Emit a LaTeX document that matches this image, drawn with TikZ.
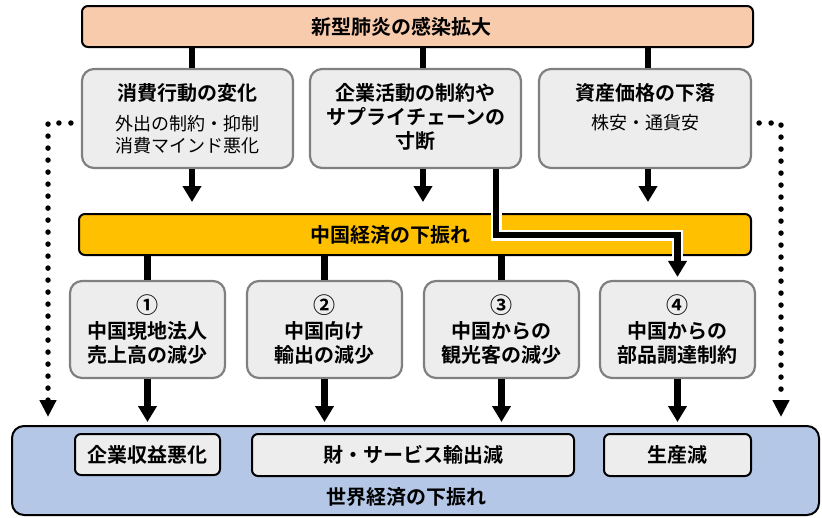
\documentclass[tikz,border=0pt]{standalone}
\usepackage{fontspec}
\setmainfont{Noto Sans CJK JP}[BoldFont={Noto Sans CJK JP Bold}]
\usetikzlibrary{arrows.meta}
\definecolor{peach}{HTML}{F8CBAD}
\definecolor{lgray}{HTML}{EDEDED}
\definecolor{bgray}{HTML}{808080}
\definecolor{ybar}{HTML}{FFC000}
\definecolor{bblue}{HTML}{B4C7E7}
\begin{document}
\begin{tikzpicture}[x=1pt,y=-1pt,
  bar/.style={draw=black,line width=2pt,rounded corners=6pt,inner sep=0pt},
  gbox/.style={draw=bgray,fill=lgray,line width=2.2pt,rounded corners=12pt,inner sep=0pt},
  wbox/.style={draw=black,fill=lgray,line width=2pt,rounded corners=6pt,inner sep=0pt,
    font=\fontsize{20}{24}\selectfont\bfseries},
  ttl/.style={inner sep=0pt,align=center,font=\fontsize{20}{24}\selectfont\bfseries},
  sub/.style={inner sep=0pt,align=center,font=\fontsize{18}{22}\selectfont},
  conn/.style={line width=6.5pt,draw=black},
  arr/.style={conn,-{Triangle[width=18pt,length=16pt]}},
  halo/.style={line width=11pt,draw=white},
  dots/.style={line width=5.5pt,line cap=round,dash pattern=on 0pt off 12pt,
    -{Triangle[width=16pt,length=17pt]}}
]
\useasboundingbox (0,0) rectangle (822,517);

% top bar
\node[bar,fill=peach,minimum width=671pt,minimum height=41pt] (top) at (417.5,26.5) {};
\node[ttl] (topt) at (401.5,26.5) {新型肺炎の感染拡大};

% gray boxes
\node[gbox,minimum width=211pt,minimum height=99pt] (A) at (187.5,118.5) {};
\node[gbox,minimum width=211pt,minimum height=99pt] (B) at (415.5,118.5) {};
\node[gbox,minimum width=212pt,minimum height=99pt] (C) at (645,118.5) {};

\node[ttl,anchor=base] (At) at (187.5,100) {消費行動の変化};
\node[sub,anchor=base] (As) at (187.5,152) {外出の制約・抑制\\消費マインド悪化};
\node[ttl,anchor=base] (Bt) at (415.5,148) {企業活動の制約や\\サプライチェーンの\\寸断};
\node[ttl,anchor=base] (Ct) at (645,100) {資産価格の下落};
\node[sub,anchor=base] (Cs) at (645,129) {株安・通貨安};

% yellow bar
\node[bar,fill=ybar,minimum width=672pt,minimum height=41pt] (Y) at (415,234.5) {};
\node[ttl] (Yt) at (390,234.5) {中国経済の下振れ};

% bottom boxes
\node[gbox,ttl,minimum width=155pt,minimum height=97pt] (D1) at (147.5,329.5)
  {{\fontsize{22}{22}\selectfont ①}\\[1pt]中国現地法人\\売上高の減少};
\node[gbox,ttl,minimum width=155pt,minimum height=97pt] (D2) at (324.5,329.5)
  {{\fontsize{22}{22}\selectfont ②}\\[1pt]中国向け\\輸出の減少};
\node[gbox,ttl,minimum width=155pt,minimum height=97pt] (D3) at (501.5,329.5)
  {{\fontsize{22}{22}\selectfont ③}\\[1pt]中国からの\\観光客の減少};
\node[gbox,ttl,minimum width=155pt,minimum height=97pt] (D4) at (677.5,329.5)
  {{\fontsize{22}{22}\selectfont ④}\\[1pt]中国からの\\部品調達制約};

% blue box
\node[draw=black,fill=bblue,line width=2pt,rounded corners=12pt,inner sep=0pt,
  minimum width=807pt,minimum height=89pt] (W) at (415.5,470.5) {};
\node[ttl] (Wt) at (406,497) {世界経済の下振れ};
\node[wbox,minimum width=145pt,minimum height=41pt] (E1) at (147.5,454.5) {企業収益悪化};
\node[wbox,minimum width=322pt,minimum height=42pt] (E2) at (413,455) {財・サービス輸出減};
\node[wbox,minimum width=147pt,minimum height=42pt] (E3) at (677.5,455) {生産減};

% connectors top -> gray boxes
\draw[conn] ([xshift=4.5pt]top.south -| A.north) -- ([xshift=4.5pt]A.north);
\draw[conn] ([xshift=7.5pt]top.south -| B.north) -- ([xshift=7.5pt]B.north);
\draw[conn] ([xshift=3pt]top.south -| C.north) -- ([xshift=3pt]C.north);

% gray boxes -> yellow bar
\draw[arr,shorten >=11pt] ([xshift=4.5pt]A.south) -- ([xshift=4.5pt]A.south |- Y.north);
\draw[arr,shorten >=11pt] ([xshift=7.5pt]B.south) -- ([xshift=7.5pt]B.south |- Y.north);
\draw[arr,shorten >=11pt] ([xshift=3pt]C.south) -- ([xshift=3pt]C.south |- Y.north);

% yellow -> boxes 1-3
\draw[conn] (D1.north |- Y.south) -- (D1.north);
\draw[conn] (D2.north |- Y.south) -- (D2.north);
\draw[conn] (D3.north |- Y.south) -- (D3.north);

% bent supply-chain line B -> D4
\coordinate (kink) at (677.5,235);
\draw[halo,shorten >=16pt] ([xshift=80.5pt]B.south) |- (kink) -- (D4.north);
\draw[arr,shorten >=3pt] ([xshift=80.5pt]B.south) |- (kink) -- (D4.north);

% boxes -> blue
\draw[arr,shorten >=3pt] (D1.south) -- (D1.south |- W.north);
\draw[arr,shorten >=3pt] (D2.south) -- (D2.south |- W.north);
\draw[arr,shorten >=3pt] (D3.south) -- (D3.south |- W.north);
\draw[arr,shorten >=3pt] (D4.south) -- (D4.south |- W.north);

% dotted side arrows
\coordinate (dl) at (48,417);
\coordinate (dr) at (781,417);
\draw[dots,shorten <=10pt] ([yshift=-4.5pt]A.west) -| (dl);
\draw[dots,shorten <=7pt] ([yshift=-4.5pt]C.east) -| (dr);
\end{tikzpicture}
\end{document}
